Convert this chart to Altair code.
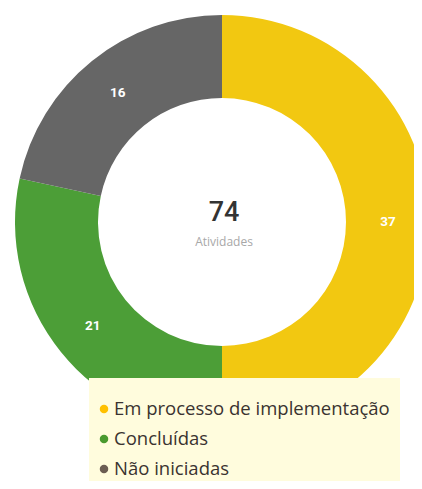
import altair as alt
import pandas as pd

categories = ["Em processo de implementação", "Concluídas", "Não iniciadas"]
values = [37, 21, 16]
slice_colors = ["#F2C811", "#4C9E37", "#666666"]
dot_colors = ["#FFC000", "#4A9A2E", "#6B5D52"]
total_value = "74"
total_label = "Atividades"

df = pd.DataFrame({"cat": categories, "val": values, "ord": [0, 1, 2]})
leg = pd.DataFrame({"cat": categories, "dot": dot_colors, "i": [0, 1, 2]})
center = pd.DataFrame({"t": [total_value], "s": [total_label]})

CX, CY = 214, 214

base = alt.Chart(df).encode(
    theta=alt.Theta("val:Q", stack=True),
    order=alt.Order("ord:Q"),
    x=alt.value(CX),
    y=alt.value(CY),
)

arcs = base.mark_arc(innerRadius=124, outerRadius=207, stroke=None).encode(
    color=alt.Color("cat:N", scale=alt.Scale(domain=categories, range=slice_colors), legend=None)
)

labels = base.mark_text(radius=166, font="Roboto", fontSize=13.5, fontWeight="bold", color="#FFFFFF").encode(
    text="val:Q"
)

num = alt.Chart(center).mark_text(font="Roboto", fontSize=27, fontWeight=500, color="#333333").encode(
    text="t:N", x=alt.value(CX + 2), y=alt.value(CY - 9)
)
sub = alt.Chart(center).mark_text(font="Open Sans", fontSize=12, color="#A8A8A8").encode(
    text="s:N", x=alt.value(CX + 2), y=alt.value(CY + 20)
)

bg = alt.Chart(center).mark_rect(color="#FFFCDD").encode(
    x=alt.value(81), x2=alt.value(392), y=alt.value(370), y2=alt.value(481)
)

ys = alt.Scale(domain=[0, 2], range=[401, 461])
dots = alt.Chart(leg).mark_point(filled=True, shape="circle", size=72, opacity=1).encode(
    x=alt.value(96),
    y=alt.Y("i:Q", scale=ys, axis=None),
    color=alt.Color("dot:N", scale=None),
)
texts = alt.Chart(leg).mark_text(align="left", baseline="middle", font="Open Sans", fontSize=18.5, color="#3A3330").encode(
    x=alt.value(106),
    y=alt.Y("i:Q", scale=ys, axis=None),
    text="cat:N",
)

chart = alt.layer(arcs, labels, num, sub, bg, dots, texts).properties(
    width=406, height=473, autosize=alt.AutoSizeParams(type="none"), padding=0
).configure_view(stroke=None).resolve_scale(color="independent")

chart.save("out.html", embed_options={"renderer": "svg", "actions": False})
